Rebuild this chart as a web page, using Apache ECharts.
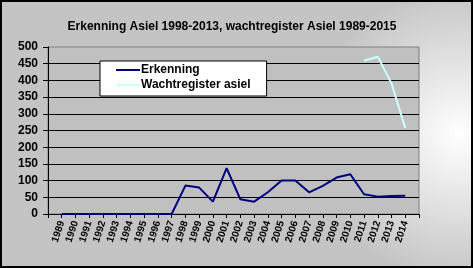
<!DOCTYPE html>
<html><head><meta charset="utf-8">
<script src="https://cdn.jsdelivr.net/npm/echarts@6/dist/echarts.min.js"></script>
<style>html,body{margin:0;padding:0;}#c{width:473px;height:268px;}</style>
</head><body><div id="c"></div>
<script>
var years = ['1989','1990','1991','1992','1993','1994','1995','1996','1997','1998','1999','2000','2001','2002','2003','2004','2005','2006','2007','2008','2009','2010','2011','2012','2013','2014'];
var erkenning = [0,0,0,0,0,0,0,0,0,85,79,37,137,44,37,65,100,100,65,84,109,119,59,52,54,55];
var wachtregister = [null,null,null,null,null,null,null,null,null,null,null,null,null,null,null,null,null,null,null,null,null,null,459,471,391,257];
var yTicks = [0,50,100,150,200,250,300,350,400,450,500];

// category axis with a blank slot on each end (points on tick marks, as in the original)
var cats = [''].concat(years).concat(['']);
function pad(a){ return [null].concat(a).concat([null]); }

var chart = echarts.init(document.getElementById('c'));
var font = 'Liberation Sans, Arial, sans-serif';
var lineIcon = 'path://M0,0L24,0L24,2L0,2Z';
chart.setOption({
  animation: false,
  backgroundColor: {
    type: 'radial', x: 0.97, y: 0.5, r: 0.55,
    colorStops: [{offset: 0, color: '#ffffff'}, {offset: 1, color: '#c4c4c4'}]
  },
  title: {
    text: 'Erkenning Asiel 1998-2013, wachtregister Asiel 1989-2015',
    left: 227, top: 16, textAlign: 'center',
    textStyle: {fontFamily: font, fontSize: 12, fontWeight: 'bold', color: '#000'}
  },
  legend: {
    orient: 'vertical', left: 100, top: 61,
    backgroundColor: '#ffffff', borderColor: '#000', borderWidth: 1,
    padding: [3, 16, 5, 16], itemGap: 3, itemWidth: 24, itemHeight: 2,
    textStyle: {fontFamily: font, fontSize: 12, fontWeight: 'bold', color: '#000', padding: [0,0,0,-4]},
    data: [{name: 'Erkenning', icon: lineIcon}, {name: 'Wachtregister asiel', icon: lineIcon}]
  },
  grid: {
    left: 48, right: 54, top: 47, bottom: 54,
    show: true, backgroundColor: '#c0c0c0', borderColor: '#808080', borderWidth: 1
  },
  xAxis: {
    type: 'category', data: cats, boundaryGap: false,
    axisLine: {lineStyle: {color: '#000', width: 1}},
    axisTick: {show: true, length: 4, interval: 0, lineStyle: {color: '#000'}},
    axisLabel: {interval: 0, rotate: 72, margin: 7, fontFamily: font, fontSize: 10, fontWeight: 'bold', color: '#000'},
    splitLine: {show: false}
  },
  yAxis: {
    type: 'value', min: yTicks[0], max: yTicks[yTicks.length-1], interval: 50,
    axisLine: {show: true, lineStyle: {color: '#000', width: 1}},
    axisTick: {show: true, length: 5, lineStyle: {color: '#000'}},
    axisLabel: {margin: 10, fontFamily: font, fontSize: 12, fontWeight: 'bold', color: '#000'},
    splitLine: {show: true, showMaxLine: false, lineStyle: {color: '#000', width: 1}}
  },
  series: [
    {name: 'Erkenning', type: 'line', data: pad(erkenning), symbol: 'none', showSymbol: false,
     lineStyle: {color: '#000080', width: 2}, itemStyle: {color: '#000080'}},
    {name: 'Wachtregister asiel', type: 'line', data: pad(wachtregister), symbol: 'none', showSymbol: false,
     lineStyle: {color: '#ccffff', width: 2}, itemStyle: {color: '#ccffff'}}
  ],
  graphic: [{
    type: 'rect', silent: true, z: 100,
    shape: {x: 1, y: 1, width: 471, height: 266},
    style: {fill: 'none', stroke: '#000', lineWidth: 2}
  }]
});
</script>
</body></html>
